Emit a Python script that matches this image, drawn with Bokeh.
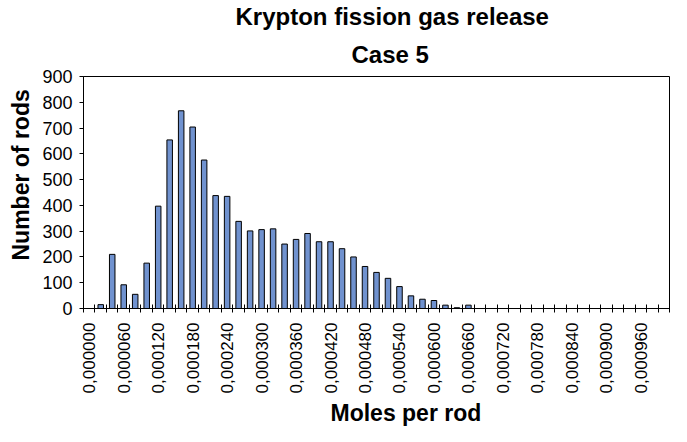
import numpy as np
from bokeh.plotting import figure
from bokeh.models import Range1d, FixedTicker, Title
from bokeh.embed import file_html
from bokeh.resources import INLINE

# ---------------- data ----------------
categories = [0.000000, 0.000020, 0.000040, 0.000060, 0.000080, 0.000100,
              0.000120, 0.000140, 0.000160, 0.000180, 0.000200, 0.000220,
              0.000240, 0.000260, 0.000280, 0.000300, 0.000320, 0.000340,
              0.000360, 0.000380, 0.000400, 0.000420, 0.000440, 0.000460,
              0.000480, 0.000500, 0.000520, 0.000540, 0.000560, 0.000580,
              0.000600, 0.000620, 0.000640, 0.000660, 0.000680, 0.000700,
              0.000720, 0.000740, 0.000760, 0.000780, 0.000800, 0.000820,
              0.000840, 0.000860, 0.000880, 0.000900, 0.000920, 0.000940,
              0.000960, 0.000980, 0.001000]
counts = [0, 15, 210, 92, 55, 176, 397, 654, 767, 704, 576, 438, 435, 338,
          301, 306, 309, 250, 268, 291, 259, 259, 232, 200, 163, 140, 117,
          85, 49, 36, 31, 13, 3, 13, 0, 0, 0, 0, 0, 0, 0, 0, 0, 0, 0, 0, 0,
          0, 0, 0, 0]
tick_labels = ["0,000000", "0,000060", "0,000120", "0,000180", "0,000240",
               "0,000300", "0,000360", "0,000420", "0,000480", "0,000540",
               "0,000600", "0,000660", "0,000720", "0,000780", "0,000840",
               "0,000900", "0,000960"]
y_ticks = [0, 100, 200, 300, 400, 500, 600, 700, 800, 900]

title_line1 = "Krypton fission gas release"
title_line2 = "Case 5"
x_title = "Moles per rod"
y_title = "Number of rods"

# ---------------- layout ----------------
W, H = 671, 426
FONT = "Liberation Sans"
n = len(categories)
y_max = y_ticks[-1]

p = figure(width=W, height=H, output_backend="svg", toolbar_location=None,
           title=None,
           x_range=Range1d(-0.5, n - 0.5), y_range=Range1d(0, y_max),
           min_border_left=80, min_border_right=2,
           min_border_top=74, min_border_bottom=118)
p.background_fill_color = "white"
p.border_fill_color = "white"
p.outline_line_color = "black"
p.outline_line_width = 1
p.outline_line_alpha = 1
p.xgrid.visible = False
p.ygrid.visible = False

def make_title(text, size, standoff, offset, lh=1.0):
    return Title(text=text, align="left", offset=offset, standoff=standoff,
                 text_font=FONT, text_font_style="bold",
                 text_font_size=size, text_color="black",
                 text_line_height=lh)

# chart title: closest line added first
p.add_layout(make_title(title_line2, "24px", 18, 268, 1.3), "above")
p.add_layout(make_title(title_line1, "24px", 0, 152, 1.3), "above")
# axis titles as titles so they can be shifted like the reference
p.add_layout(make_title(x_title, "23px", 2, 247), "below")
p.add_layout(make_title(y_title, "23px", 11, 48), "left")

xs = list(range(n))
p.vbar(x=xs, top=counts, width=0.48, fill_color="#7092CF",
       line_color="black", line_width=1)

# x axis
fmt = lambda v: f"{v:.6f}".replace(".", ",")
cat_labels = [fmt(c) for c in categories]
label_idx = [cat_labels.index(t) for t in tick_labels]
boundaries = [i - 0.5 for i in range(n + 1)]
xa = p.xaxis[0]
xa.ticker = FixedTicker(ticks=label_idx, minor_ticks=boundaries)
xa.major_label_overrides = {i: cat_labels[i] for i in label_idx}
xa.major_tick_line_color = None
xa.major_tick_in = 0
xa.major_tick_out = 0
xa.minor_tick_in = 4
xa.minor_tick_out = 4
xa.minor_tick_line_color = "black"
xa.major_label_orientation = np.pi / 2
xa.major_label_standoff = 10
xa.major_label_text_font = FONT
xa.major_label_text_font_size = "17px"
xa.major_label_text_color = "black"
xa.axis_line_color = "black"

# y axis
ya = p.yaxis[0]
ya.ticker = FixedTicker(ticks=y_ticks)
ya.major_tick_in = 0
ya.major_tick_out = 4
ya.minor_tick_line_color = None
ya.major_tick_line_color = "black"
ya.major_label_standoff = 7
ya.major_label_text_font = FONT
ya.major_label_text_font_size = "18px"
ya.major_label_text_color = "black"
ya.axis_line_color = "black"

open("out.html", "w").write(file_html(p, INLINE))
